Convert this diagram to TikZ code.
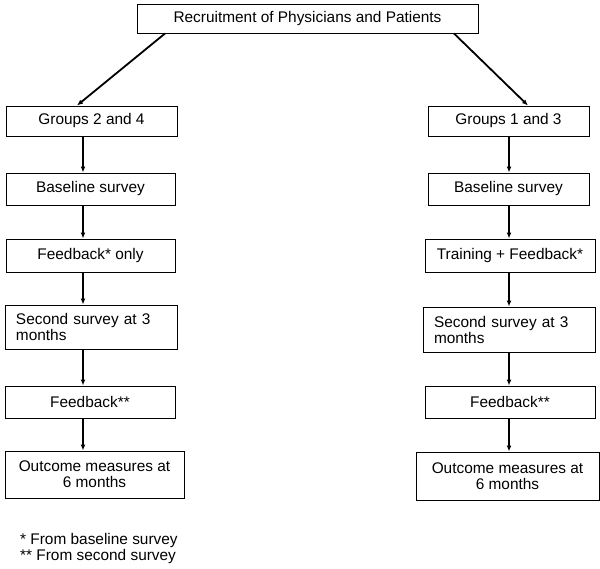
\documentclass[tikz,border=0pt]{standalone}
\usepackage{fontspec}
\setmainfont{Liberation Sans}
\usetikzlibrary{arrows.meta}
\begin{document}
\begin{tikzpicture}[x=1pt,y=-1pt,
  box/.style={draw,line width=1pt,inner sep=0pt,align=center,font=\fontsize{15.4}{16}\selectfont},
  arr/.style={line width=1.8pt,-{Latex[length=6pt,width=5pt]}}]
\useasboundingbox (0,0) rectangle (600,568);
\node[box,minimum width=341pt,minimum height=29pt] (top) at (307.5,18.5) {Recruitment of Physicians and Patients};
% left column
\node[box,minimum width=171pt,minimum height=30pt] (g24) at (91.5,121) {Groups 2 and 4};
\node[box,minimum width=169pt,minimum height=32pt] (bl) at (90.5,189) {Baseline survey};
\node[box,minimum width=169pt,minimum height=33pt] (fl) at (90.5,255.5) {Feedback* only};
\node[box,minimum width=172pt,minimum height=44pt,text width=150pt,align=left] (sl) at (91,327) {Second survey at 3\\months};
\node[box,minimum width=170pt,minimum height=32pt] (fbl) at (90,402) {Feedback**};
\node[box,minimum width=179pt,minimum height=47pt] (ol) at (94.5,474.5) {Outcome measures at\\6 months};
% right column
\node[box,minimum width=161pt,minimum height=30pt] (g13) at (508.5,121) {Groups 1 and 3};
\node[box,minimum width=161pt,minimum height=32pt] (br) at (508.5,189) {Baseline survey};
\node[box,minimum width=170pt,minimum height=33pt] (tr) at (510,255.5) {Training + Feedback*};
\node[box,minimum width=172pt,minimum height=45pt,text width=150pt,align=left] (sr) at (509,329.5) {Second survey at 3\\months};
\node[box,minimum width=170pt,minimum height=32pt] (fbr) at (510,402) {Feedback**};
\node[box,minimum width=183pt,minimum height=48pt] (or) at (507.5,476) {Outcome measures at\\6 months};
% footnotes
\node[anchor=west,align=left,inner sep=0pt,font=\fontsize{15.4}{16}\selectfont] (notes) at (20,549) {* From baseline survey\\** From second survey};
% connector x positions
\coordinate (lx) at (83,0);
\coordinate (rx) at (509,0);
\coordinate (tl) at (165,0);
\coordinate (gl) at (77,0);
\coordinate (trr) at (454,0);
\coordinate (gr) at (528,0);
\draw[arr] (top.south -| tl) -- (g24.north -| gl);
\draw[arr] (top.south -| trr) -- (g13.north -| gr);
\draw[arr] (g24.south -| lx) -- (bl.north -| lx);
\draw[arr] (bl.south -| lx) -- (fl.north -| lx);
\draw[arr] (fl.south -| lx) -- (sl.north -| lx);
\draw[arr] (sl.south -| lx) -- (fbl.north -| lx);
\draw[arr] (fbl.south -| lx) -- (ol.north -| lx);
\draw[arr] (g13.south -| rx) -- (br.north -| rx);
\draw[arr] (br.south -| rx) -- (tr.north -| rx);
\draw[arr] (tr.south -| rx) -- (sr.north -| rx);
\draw[arr] (sr.south -| rx) -- (fbr.north -| rx);
\draw[arr] (fbr.south -| rx) -- (or.north -| rx);
\end{tikzpicture}
\end{document}
